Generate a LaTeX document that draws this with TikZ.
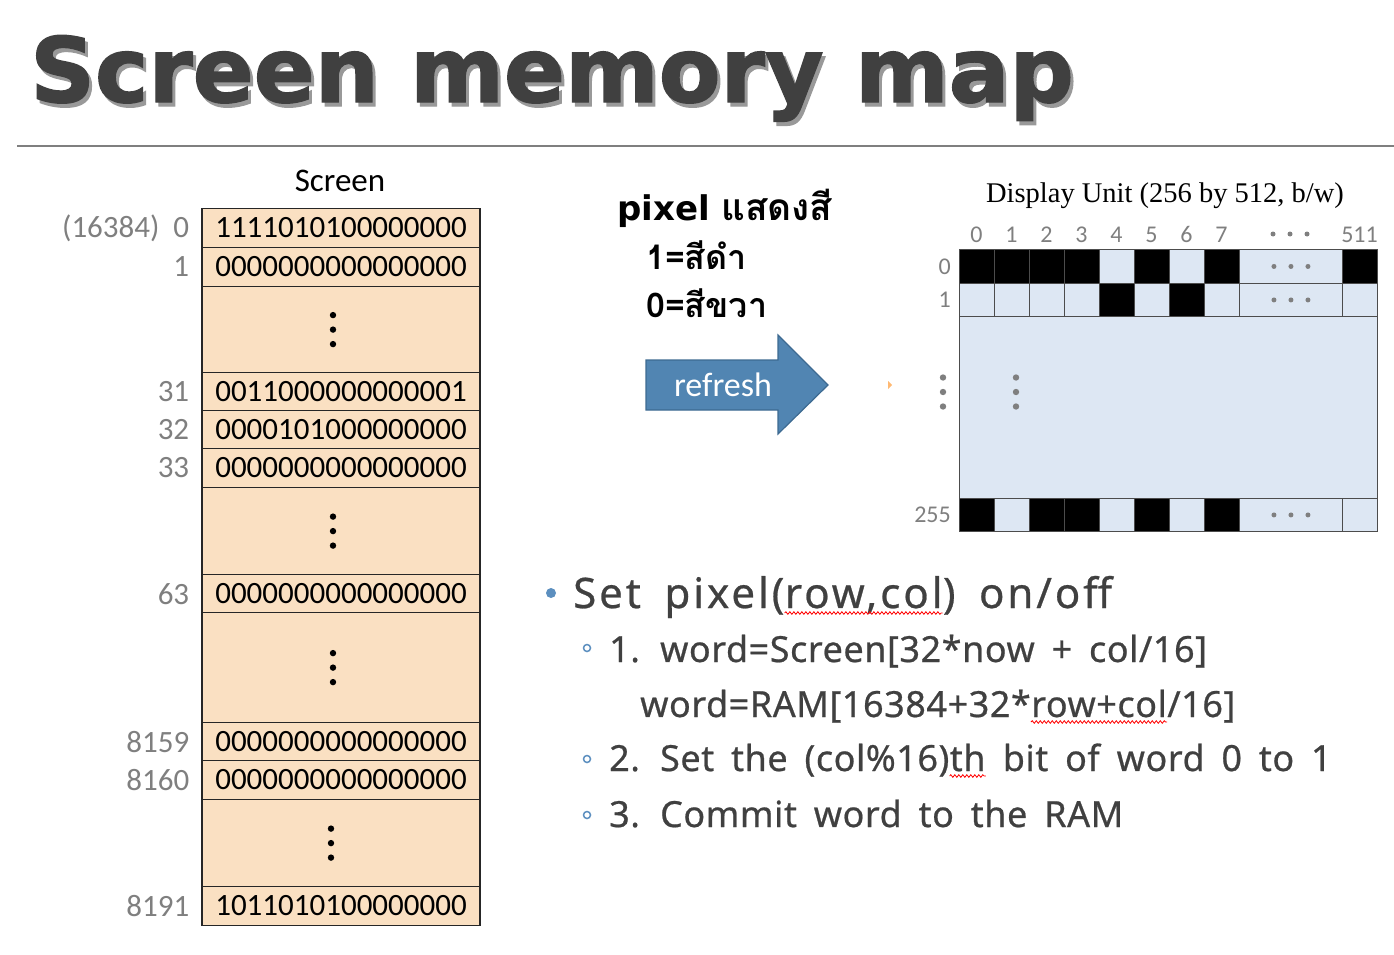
\documentclass[tikz,border=0pt]{standalone}
\usepackage{fontspec}
\setmainfont{Carlito}
\newfontfamily\titlefont[FakeBold=1.5]{DejaVu Sans}
\newfontfamily\thaifont[Script=Thai]{Loma}
\newfontfamily\latinbold{DejaVu Sans}
\newfontfamily\dispfont{Liberation Serif}
\newfontfamily\bulletfont[LetterSpace=7, WordSpace=1.7, FakeBold=0.6]{Noto Sans}
\newfontfamily\stepfont[LetterSpace=1.5, WordSpace=1.7, FakeBold=0.6]{Noto Sans}
\usetikzlibrary{positioning, decorations.pathmorphing}

\definecolor{wordfill}{HTML}{FAE0C2}
\definecolor{pxoff}{HTML}{DDE7F3}
\definecolor{labelgray}{HTML}{7F7F7F}
\definecolor{textdark}{HTML}{404040}
\definecolor{arrowblue}{HTML}{5185B2}
\definecolor{arrowedge}{HTML}{3D6A91}
\definecolor{bulletblue}{HTML}{5C8FBF}

% three dots, across and down
\newcommand\hdotsat[1]{\foreach \dx in {-17,0,17} \fill[labelgray] ([xshift=\dx pt]#1) circle (2.5pt);}
\newcommand\vdotsat[2]{\foreach \dy in {-14.5,0,14.5} \fill[#2] ([yshift=\dy pt]#1) circle (3.2pt);}
% title with its drop shadow
\newcommand\shadowed[1]{\rlap{\raisebox{-4pt}{\hspace{3pt}\textcolor{black!40}{#1}}}#1}

\begin{document}
\begin{tikzpicture}[
				x=1pt, y=-1pt,
				word/.style={draw=black!85, fill=wordfill, line width=1.2pt, anchor=north,
					minimum width=278pt, minimum height=38.5pt, inner sep=0pt,
					font=\fontsize{31}{31}\selectfont},
				addr/.style={text=labelgray, inner sep=0pt, font=\fontsize{31}{31}\selectfont},
				pxcell/.style={draw=black!70, line width=0.9pt, anchor=north west,
					minimum width=35pt, minimum height=33.5pt, inner sep=0pt},
				px0/.style={fill=pxoff},
				px1/.style={fill=black},
				collab/.style={text=labelgray, inner sep=0pt, anchor=base, font=\fontsize{24}{24}\selectfont},
				thaitxt/.style={anchor=base west, inner sep=0pt, font=\thaifont\bfseries\fontsize{34}{34}\selectfont},
				bullettxt/.style={anchor=base west, inner sep=0pt, text=textdark, font=\bulletfont\fontsize{42}{42}\selectfont},
				subtxt/.style={anchor=base west, inner sep=0pt, text=textdark, font=\stepfont\fontsize{36}{36}\selectfont},
				squig/.style={red, line width=0.8pt, decorate, decoration={snake, amplitude=1.3pt, segment length=4pt}},
				]
				\useasboundingbox (0,0) rectangle (1394,954);
				
				%% ── Title ──────────────────────────────────────────────────────────────
				\node[anchor=base west, inner sep=0pt, text=textdark, font=\titlefont\bfseries\fontsize{90}{90}\selectfont] (title) at (30,102) {\shadowed{Screen memory map}};
				\draw[labelgray, line width=2pt] (17,146) -- (1394,146);
				
				%% ── Screen memory (left) ───────────────────────────────────────────────
				\node[anchor=base, inner sep=0pt, font=\fontsize{33}{33}\selectfont] (screenlbl) at (340,191) {Screen};
				
				\node[word] (w0)    at (341,208) {1111010100000000};
				\node[word] (w1)    at (341,247) {0000000000000000};
				\node[word, minimum height=86pt] (gapA) at (341,286) {};
				\node[word] (w31)   at (341,372) {0011000000000001};
				\node[word] (w32)   at (341,410) {0000101000000000};
				\node[word] (w33)   at (341,448) {0000000000000000};
				\node[word, minimum height=87pt] (gapB) at (341,487) {};
				\node[word] (w63)   at (341,574) {0000000000000000};
				\node[word, minimum height=110pt] (gapC) at (341,612) {};
				\node[word] (w8159) at (341,722) {0000000000000000};
				\node[word] (w8160) at (341,760) {0000000000000000};
				\node[word, minimum height=87pt] (gapD) at (341,799) {};
				\node[word] (w8191) at (341,886) {1011010100000000};
				
				\coordinate (dotsA) at ([xshift=-8pt]gapA.center);
				\coordinate (dotsB) at ([xshift=-8pt]gapB.center);
				\coordinate (dotsC) at ([xshift=-8pt]gapC.center);
				\coordinate (dotsD) at ([xshift=-10pt]gapD.center);
				\vdotsat{dotsA}{black}
				\vdotsat{dotsB}{black}
				\vdotsat{dotsC}{black}
				\vdotsat{dotsD}{black}
				
				\node[addr, left=12pt of w0]    (a0)    {(16384)\hspace{14pt}0};
				\node[addr, left=12pt of w1]    (a1)    {1};
				\node[addr, left=12pt of w31]   (a31)   {31};
				\node[addr, left=12pt of w32]   (a32)   {32};
				\node[addr, left=12pt of w33]   (a33)   {33};
				\node[addr, left=12pt of w63]   (a63)   {63};
				\node[addr, left=12pt of w8159] (a8159) {8159};
				\node[addr, left=12pt of w8160] (a8160) {8160};
				\node[addr, left=12pt of w8191] (a8191) {8191};
				
				%% ── Colour legend and refresh arrow ────────────────────────────────────
				\node[thaitxt] (legend)  at (617,220) {{\latinbold\bfseries\fontsize{34}{34}\selectfont pixel} {\fontsize{37}{37}\selectfont แสดงสี}};
				\node[thaitxt] (black1)  at (646,269) {1=สีดำ};
				\node[thaitxt] (white0)  at (646,317) {0=สีขวา};
				
				\draw[arrowedge, fill=arrowblue, line width=1.2pt]
				(646,360) -- (778,360) -- (778,335) -- (828,385) -- (778,434) -- (778,410) -- (646,410) -- cycle;
				\node[text=white, inner sep=0pt, font=\fontsize{34}{34}\selectfont] (refresh) at (723,385) {refresh};
				\fill[orange!55] (888,381) -- (892,385) -- (888,389) -- cycle;
				
				%% ── Display unit (right) ───────────────────────────────────────────────
				\node[anchor=base, inner sep=0pt, font=\dispfont\fontsize{28.5}{28.5}\selectfont] (disptitle) at (1165,202) {Display Unit (256 by 512, b/w)};
				
				\node[pxcell, px0, minimum width=418pt, minimum height=282pt] (disp) at (959,249) {};
				
				% row 0
				\foreach \b [count=\i from 0] in {1,1,1,1,0,1,0,1}
				\node[pxcell, px\b, minimum height=34pt] (ra\i) at ({959+35*\i},249) {};
				\node[pxcell, px0, minimum width=103pt, minimum height=34pt] (radots) at (1239,249) {};
				\node[pxcell, px1, minimum height=34pt] (ralast) at (1342,249) {};
				% row 1
				\foreach \b [count=\i from 0] in {0,0,0,0,1,0,1,0}
				\node[pxcell, px\b, minimum height=33pt] (rb\i) at ({959+35*\i},283) {};
				\node[pxcell, px0, minimum width=103pt, minimum height=33pt] (rbdots) at (1239,283) {};
				\node[pxcell, px0, minimum height=33pt] (rblast) at (1342,283) {};
				% row 255
				\foreach \b [count=\i from 0] in {1,0,1,1,0,1,0,1}
				\node[pxcell, px\b, minimum height=33pt] (rc\i) at ({959+35*\i},498) {};
				\node[pxcell, px0, minimum width=103pt, minimum height=33pt] (rcdots) at (1239,498) {};
				\node[pxcell, px0, minimum height=33pt] (rclast) at (1342,498) {};
				
				\hdotsat{radots.center}
				\hdotsat{rbdots.center}
				\hdotsat{rcdots.center}
				
				\foreach \i in {0,...,7}
				\node[collab] (col\i) at ({976.5+35*\i},242) {\i};
				\coordinate (coldots) at (1290,234);
				\hdotsat{coldots}
				\node[collab] (col511) at (1359.5,242) {511};
				
				\node[collab, anchor=center, left=8pt of ra0] (row0)   {0};
				\node[collab, anchor=center, left=8pt of rb0] (row1)   {1};
				\node[collab, anchor=center, left=8pt of rc0] (row255) {255};
				\coordinate (rowdots) at (943,392);
				\coordinate (innerdots) at (1016,392);
				\vdotsat{rowdots}{labelgray}
				\vdotsat{innerdots}{labelgray}
				
				%% ── Set pixel steps ────────────────────────────────────────────────────
				\fill[bulletblue] (551,593) circle (5pt);
				\node[bullettxt] (setpxA) at (573,608) {Set pixel(};
				\node[bullettxt] (setpxB) at (setpxA.base east) {row,col};
				\node[bullettxt] (setpxC) at (setpxB.base east) {) on/off};
				\draw[squig] ([yshift=-5pt]setpxB.base west) -- ([yshift=-5pt]setpxB.base east);
				
				\draw[bulletblue, line width=1.5pt] (587,648) circle (3.5pt);
				\node[subtxt] (step1) at (609,662) {1. word=Screen[32*now + col/16]};
				\node[subtxt] (step1bA) at (640,717) {word=RAM[16384+32*};
				\node[subtxt] (step1bB) at (step1bA.base east) {row+col};
				\node[subtxt] (step1bC) at (step1bB.base east) {/16]};
				\draw[squig] ([yshift=-5pt]step1bB.base west) -- ([yshift=-5pt]step1bB.base east);
				
				\draw[bulletblue, line width=1.5pt] (587,759) circle (3.5pt);
				\node[subtxt] (step2A) at (609,771) {2. Set the (col\%16)};
				\node[subtxt] (step2B) at (step2A.base east) {th};
				\node[subtxt] (step2C) at (step2B.base east) {~bit of word 0 to 1};
				\draw[squig] ([yshift=-5pt]step2B.base west) -- ([yshift=-5pt]step2B.base east);
				
				\draw[bulletblue, line width=1.5pt] (587,815) circle (3.5pt);
				\node[subtxt] (step3) at (609,827) {3. Commit word to the RAM};
				
			\end{tikzpicture}
\end{document}
